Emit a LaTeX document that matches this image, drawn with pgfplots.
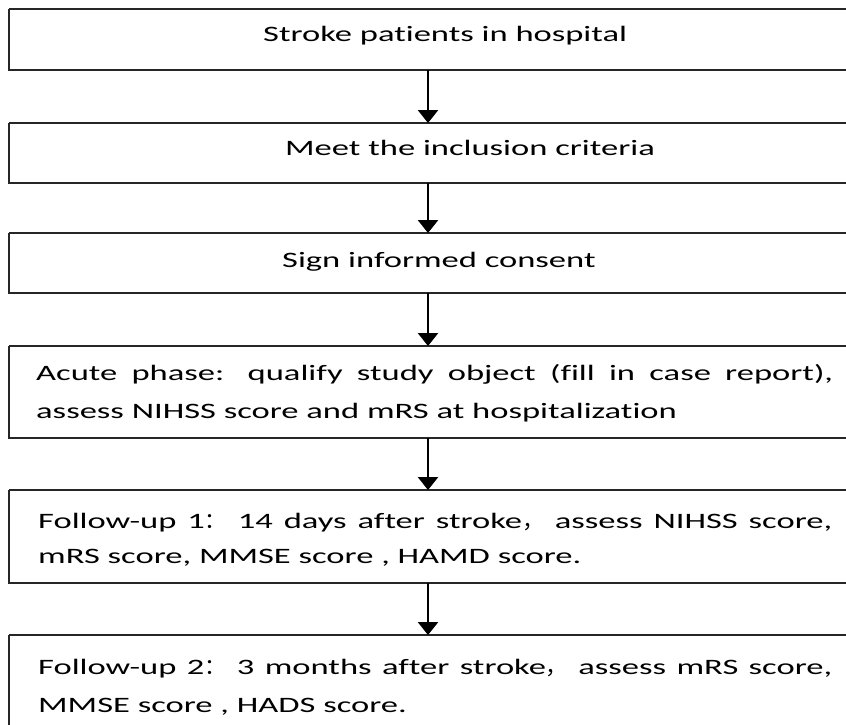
\documentclass[border=0pt]{standalone}
\usepackage{pgfplots}
\pgfplotsset{compat=1.18}
\usetikzlibrary{arrows.meta}
\usepackage{fontspec}
\setmainfont{Carlito}[FakeStretch=1.57, Ligatures=NoCommon]
\newfontfamily\cjk{Noto Sans CJK SC}
\newcommand{\fc}{{\cjk ：}}
\newcommand{\fcm}{{\cjk ，}}
\newcommand{\tf}{\fontsize{22}{26}\selectfont}
\begin{document}
\begin{tikzpicture}
\begin{axis}[at={(0,0)}, anchor=south west, scale only axis,
  width=846pt, height=724pt, xmin=0, xmax=846, ymin=0, ymax=724,
  y dir=reverse, hide axis, clip=true]
% boxes
\addplot[line width=1.6pt, black!85] coordinates {(9,9) (880,9) (880,70) (9,70) (9,9)};
\addplot[line width=1.6pt, black!85] coordinates {(9,123) (880,123) (880,183) (9,183) (9,123)};
\addplot[line width=1.6pt, black!85] coordinates {(9,233) (880,233) (880,293) (9,293) (9,233)};
\addplot[line width=1.6pt, black!85] coordinates {(9,346) (880,346) (880,438) (9,438) (9,346)};
\addplot[line width=1.6pt, black!85] coordinates {(9,490) (880,490) (880,583) (9,583) (9,490)};
\addplot[line width=1.6pt, black!85] coordinates {(9,635) (880,635) (880,760) (9,760) (9,635)};
% arrows
\addplot[line width=2.6pt, black, -{Triangle[width=20pt,length=13pt]}] coordinates {(428,70) (428,123)};
\addplot[line width=2.6pt, black, -{Triangle[width=20pt,length=13pt]}] coordinates {(428,183) (428,233)};
\addplot[line width=2.6pt, black, -{Triangle[width=20pt,length=13pt]}] coordinates {(428,293) (428,346)};
\addplot[line width=2.6pt, black, -{Triangle[width=20pt,length=13pt]}] coordinates {(428,438) (428,490)};
\addplot[line width=2.6pt, black, -{Triangle[width=20pt,length=13pt]}] coordinates {(428,583) (428,635)};
% texts
\node[anchor=base west, inner sep=0] at (axis cs:263,41) {\tf Stroke patients in hospital};
\node[anchor=base west, inner sep=0] at (axis cs:285,155) {\tf Meet the inclusion criteria};
\node[anchor=base west, inner sep=0] at (axis cs:282,267) {\tf Sign informed consent};
\node[anchor=base west, inner sep=0] at (axis cs:36,380) {\tf\makebox[797pt][s]{Acute phase: qualify study object (fill in case report),}};
\node[anchor=base west, inner sep=0] at (axis cs:36,418) {\tf assess NIHSS score and mRS at hospitalization};
\node[anchor=base west, inner sep=0] at (axis cs:38,528) {\tf\makebox[794pt][s]{Follow-up 1\fc{} 14 days after stroke\fcm{} assess NIHSS score,}};
\node[anchor=base west, inner sep=0] at (axis cs:38,563) {\tf mRS score, MMSE score , HAMD score.};
\node[anchor=base west, inner sep=0] at (axis cs:38,674) {\tf\makebox[794pt][s]{Follow-up 2\fc{} 3 months after stroke\fcm{} assess mRS score,}};
\node[anchor=base west, inner sep=0] at (axis cs:38,712) {\tf MMSE score , HADS score.};
\end{axis}
\pgfresetboundingbox
\path[use as bounding box] (0,0) rectangle (846pt,724pt);
\end{tikzpicture}
\end{document}
